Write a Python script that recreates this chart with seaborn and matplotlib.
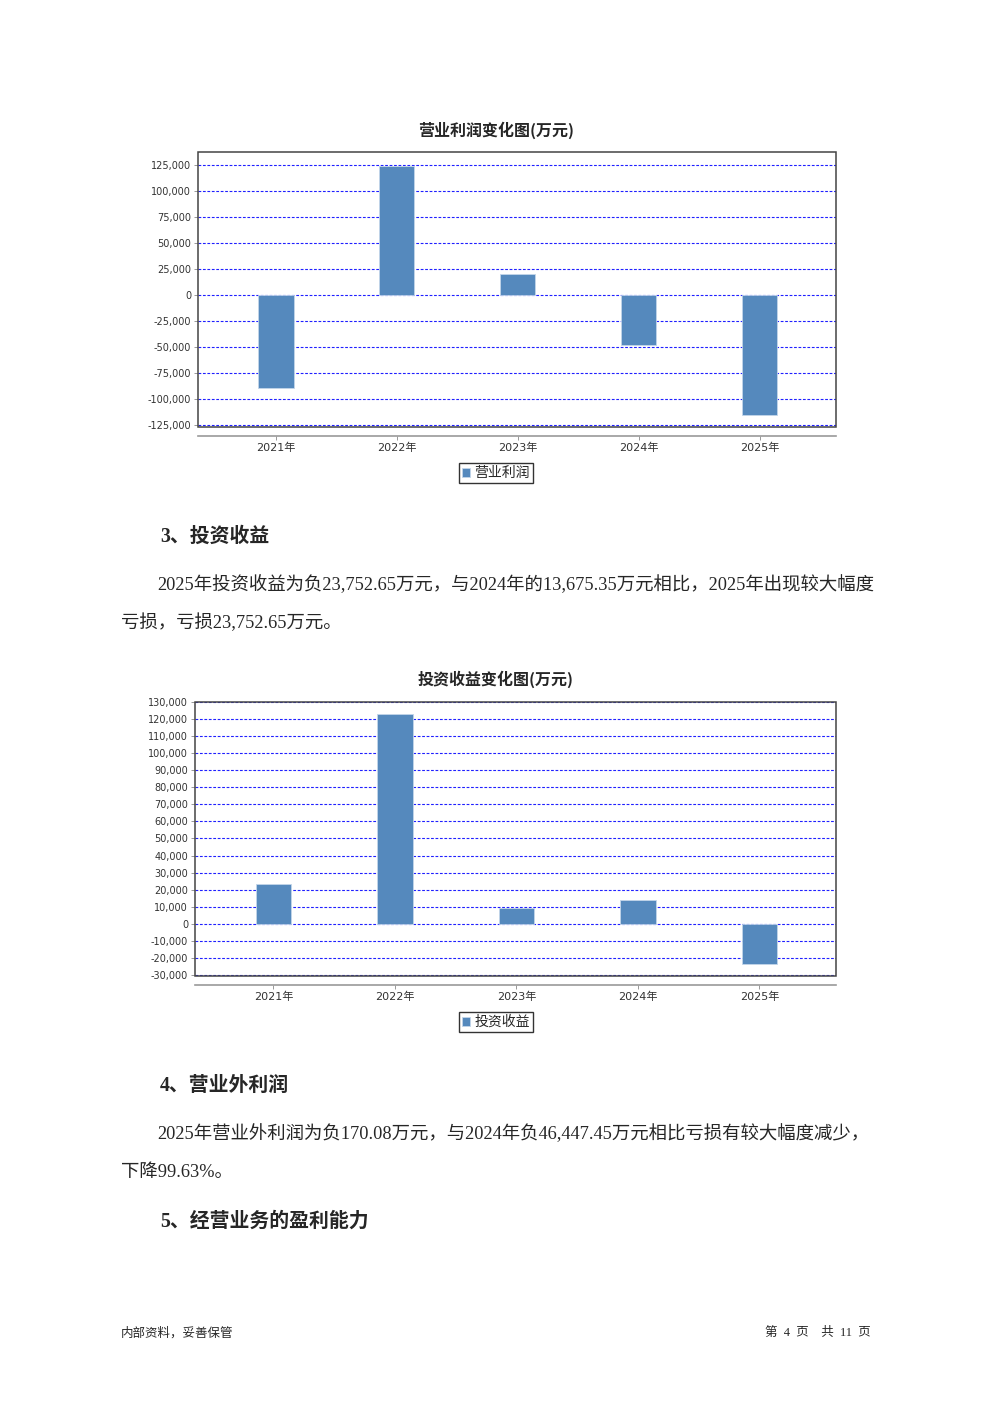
import matplotlib
matplotlib.use("Agg")
import matplotlib.pyplot as plt
from matplotlib.patches import Rectangle
from matplotlib.ticker import FuncFormatter, MultipleLocator
import seaborn as sns
import pandas as pd

years = ["2021年", "2022年", "2023年", "2024年", "2025年"]
op_profit = [-89400, 124500, 20200, -48000, -115000]
invest_income = [23600, 123200, 9400, 13675.35, -23752.65]

W, H = 992, 1403
BAR = "#5589bd"
CJK = ["DejaVu Sans", "Noto Sans CJK SC"]
SERIF = ["Liberation Serif", "Noto Sans CJK SC"]

sns.set_style("white")
plt.rcParams["font.family"] = CJK

fig = plt.figure(figsize=(W / 100, H / 100), dpi=100)


def px_axes(x0, y0, x1, y1):
    return fig.add_axes([x0 / W, 1 - y1 / H, (x1 - x0) / W, (y1 - y0) / H])


def bar_chart(box, values, name, title, title_y, ylim, step, legend_y):
    ax = px_axes(*box)
    df = pd.DataFrame({"year": years, "value": values, "series": name})
    sns.barplot(data=df, x="year", y="value", hue="series", palette=[BAR],
                saturation=1, width=0.29, edgecolor="#c3d6ea", linewidth=0.6, ax=ax)
    ax.set_xlim(-0.645, 4.63)
    ax.set_ylim(*ylim)
    ax.yaxis.set_major_locator(MultipleLocator(step))
    ax.yaxis.set_major_formatter(FuncFormatter(lambda v, p: f"{v:,.0f}"))
    ax.grid(axis="y", color="#2020ff", linestyle=(0, (2.5, 1.5)), linewidth=0.8)
    ax.set_axisbelow(True)
    ax.set_xlabel("")
    ax.set_ylabel("")
    for s in ["top", "right", "left"]:
        ax.spines[s].set_visible(False)
    ax.spines["bottom"].set_position(("outward", 6.5))
    ax.spines["bottom"].set_color("#9a9a9a")
    ax.spines["bottom"].set_linewidth(1.2)
    ax.add_patch(Rectangle((0, 0), 1, 1, transform=ax.transAxes, fill=False,
                           edgecolor="#444444", linewidth=1.1, zorder=5, clip_on=False))
    ax.tick_params(axis="y", left=True, length=3, width=0.6, color="#888888",
                   labelsize=7, labelcolor="#333333", pad=2)
    ax.tick_params(axis="x", bottom=True, length=3, width=0.6, color="#888888",
                   labelsize=8, labelcolor="#333333", pad=2)
    fig.text(496 / W, 1 - title_y / H, title, ha="center", va="center",
             fontsize=11.5, fontweight="bold", family=["Noto Sans CJK SC"])
    sns.move_legend(ax, "center", bbox_to_anchor=(496 / W, 1 - legend_y / H),
                    bbox_transform=fig.transFigure, title=None, frameon=True,
                    fancybox=False, handlelength=0.6, handleheight=0.6,
                    handletextpad=0.3, borderpad=0.2, borderaxespad=0,
                    prop={"family": ["Noto Sans CJK SC"], "size": 10})
    leg = ax.get_legend()
    leg.get_frame().set_edgecolor("black")
    leg.get_frame().set_linewidth(1.0)
    return ax


bar_chart((198, 152, 836, 427), op_profit, "营业利润", "营业利润变化图(万元)", 130,
          (-126900, 137500), 25000, 473)
bar_chart((195, 702, 836, 976), invest_income, "投资收益", "投资收益变化图(万元)", 679,
          (-30600, 130000), 10000, 1022)


def txt(x, y, s, size=13.25, bold=False, ha="left"):
    fig.text(x / W, 1 - y / H, s, ha=ha, va="center", fontsize=size,
             fontweight="bold" if bold else "normal", family=SERIF)


txt(160, 537, "3、投资收益", size=14.3, bold=True)
txt(157, 585, "2025年投资收益为负23,752.65万元，与2024年的13,675.35万元相比，2025年出现较大幅度")
txt(121, 623, "亏损，亏损23,752.65万元。")
txt(160, 1086, "4、营业外利润", size=14.3, bold=True)
txt(157, 1134, "2025年营业外利润为负170.08万元，与2024年负46,447.45万元相比亏损有较大幅度减少，")
txt(121, 1173, "下降99.63%。")
txt(160, 1222, "5、经营业务的盈利能力", size=14.3, bold=True)
txt(121, 1333, "内部资料，妥善保管", size=9)
txt(871, 1333, "第  4  页    共  11  页", size=9, ha="right")

fig.savefig("out.png", dpi=100)
